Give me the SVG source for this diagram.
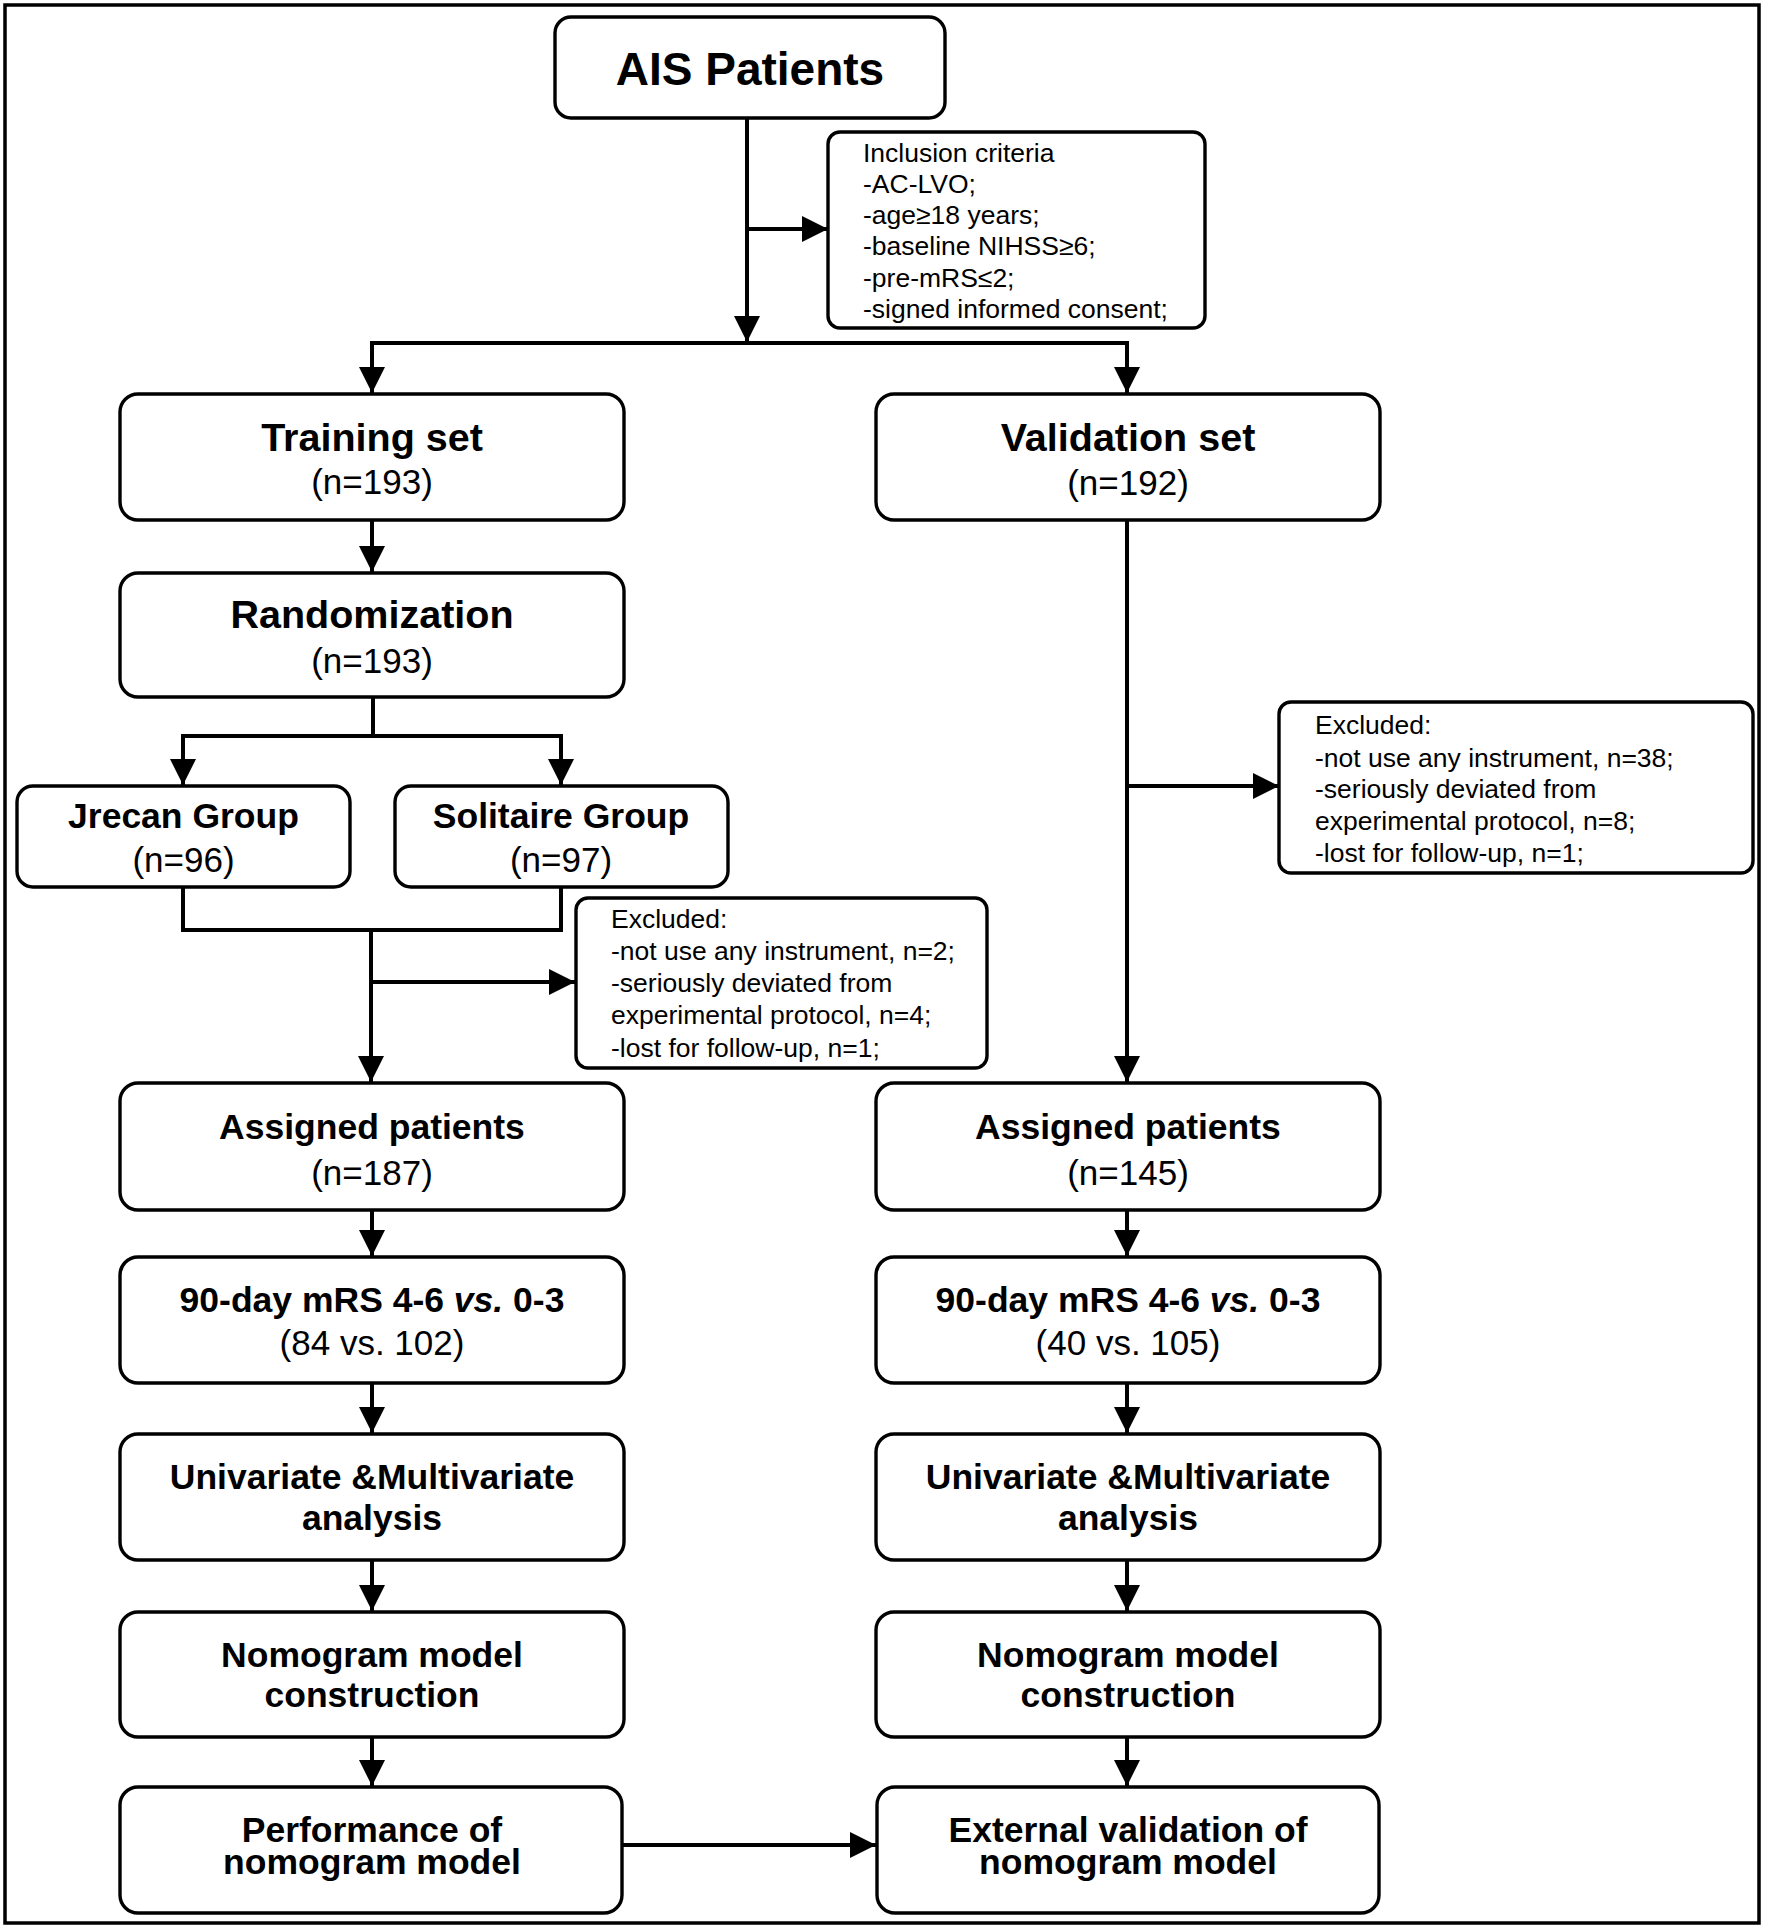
<svg xmlns="http://www.w3.org/2000/svg" width="1768" height="1931" viewBox="0 0 1768 1931">
<style>
.box{fill:#fff;stroke:#000;stroke-width:3.4}
.ln{fill:none;stroke:#000;stroke-width:4}
.t{font-family:"Liberation Sans",Arial,sans-serif;fill:#000}
.b{font-weight:bold;font-size:35.5px;text-anchor:middle}
.bt{font-weight:bold;font-size:39.5px;text-anchor:middle}
.r{font-size:35px;text-anchor:middle}
.s{font-size:26.5px}
</style>
<defs>
<marker id="ah" markerUnits="userSpaceOnUse" markerWidth="26" markerHeight="26" refX="26" refY="13" orient="auto">
<path d="M0,0 L26,13 L0,26 z" fill="#000"/>
</marker>
</defs>
<rect x="0" y="0" width="1768" height="1931" fill="#fff"/>
<rect x="5" y="5" width="1754" height="1918" fill="none" stroke="#000" stroke-width="3.5"/>

<g id="connectors">
<line class="ln" x1="747" y1="118" x2="747" y2="342" marker-end="url(#ah)"/>
<line class="ln" x1="747" y1="229" x2="828" y2="229" marker-end="url(#ah)"/>
<line class="ln" x1="370" y1="343" x2="1129" y2="343"/>
<line class="ln" x1="372" y1="343" x2="372" y2="393" marker-end="url(#ah)"/>
<line class="ln" x1="1127" y1="343" x2="1127" y2="393" marker-end="url(#ah)"/>
<line class="ln" x1="372" y1="520" x2="372" y2="572" marker-end="url(#ah)"/>
<line class="ln" x1="373" y1="697" x2="373" y2="736"/>
<line class="ln" x1="181" y1="736" x2="563" y2="736"/>
<line class="ln" x1="183" y1="736" x2="183" y2="785" marker-end="url(#ah)"/>
<line class="ln" x1="561" y1="736" x2="561" y2="785" marker-end="url(#ah)"/>
<polyline class="ln" points="183,887 183,930 561,930 561,887"/>
<line class="ln" x1="371" y1="930" x2="371" y2="1082" marker-end="url(#ah)"/>
<line class="ln" x1="371" y1="982" x2="575" y2="982" marker-end="url(#ah)"/>
<line class="ln" x1="1127" y1="520" x2="1127" y2="1082" marker-end="url(#ah)"/>
<line class="ln" x1="1127" y1="786" x2="1279" y2="786" marker-end="url(#ah)"/>
<line class="ln" x1="372" y1="1210" x2="372" y2="1256" marker-end="url(#ah)"/>
<line class="ln" x1="1127" y1="1210" x2="1127" y2="1256" marker-end="url(#ah)"/>
<line class="ln" x1="372" y1="1383" x2="372" y2="1433" marker-end="url(#ah)"/>
<line class="ln" x1="1127" y1="1383" x2="1127" y2="1433" marker-end="url(#ah)"/>
<line class="ln" x1="372" y1="1560" x2="372" y2="1611" marker-end="url(#ah)"/>
<line class="ln" x1="1127" y1="1560" x2="1127" y2="1611" marker-end="url(#ah)"/>
<line class="ln" x1="372" y1="1737" x2="372" y2="1786" marker-end="url(#ah)"/>
<line class="ln" x1="1127" y1="1737" x2="1127" y2="1786" marker-end="url(#ah)"/>
<line class="ln" x1="622" y1="1845" x2="876" y2="1845" marker-end="url(#ah)"/>
</g>

<g id="ais">
<rect class="box" x="555" y="17" width="390" height="101" rx="16"/>
<text class="t" x="750" y="85" font-weight="bold" font-size="46" text-anchor="middle">AIS Patients</text>
</g>

<g id="inclusion">
<rect class="box" x="828" y="132" width="377" height="196" rx="12"/>
<text class="t s" x="863" y="162">Inclusion criteria</text>
<text class="t s" x="863" y="193">-AC-LVO;</text>
<text class="t s" x="863" y="224">-age≥18 years;</text>
<text class="t s" x="863" y="255">-baseline NIHSS≥6;</text>
<text class="t s" x="863" y="287">-pre-mRS≤2;</text>
<text class="t s" x="863" y="318">-signed informed consent;</text>
</g>

<g id="training">
<rect class="box" x="120" y="394" width="504" height="126" rx="18"/>
<text class="t bt" x="372" y="451">Training set</text>
<text class="t r" x="372" y="494">(n=193)</text>
</g>

<g id="validation">
<rect class="box" x="876" y="394" width="504" height="126" rx="18"/>
<text class="t bt" x="1128" y="451">Validation set</text>
<text class="t r" x="1128" y="495">(n=192)</text>
</g>

<g id="randomization">
<rect class="box" x="120" y="573" width="504" height="124" rx="18"/>
<text class="t bt" x="372" y="628">Randomization</text>
<text class="t r" x="372" y="673">(n=193)</text>
</g>

<g id="jrecan">
<rect class="box" x="17" y="786" width="333" height="101" rx="16"/>
<text class="t b" x="183.5" y="828">Jrecan Group</text>
<text class="t r" x="183.5" y="872">(n=96)</text>
</g>

<g id="solitaire">
<rect class="box" x="395" y="786" width="333" height="101" rx="16"/>
<text class="t b" x="561" y="828">Solitaire Group</text>
<text class="t r" x="561" y="872">(n=97)</text>
</g>

<g id="excluded-left">
<rect class="box" x="576" y="898" width="411" height="170" rx="12"/>
<text class="t s" x="611" y="928">Excluded:</text>
<text class="t s" x="611" y="960">-not use any instrument, n=2;</text>
<text class="t s" x="611" y="992">-seriously deviated from</text>
<text class="t s" x="611" y="1024">experimental protocol, n=4;</text>
<text class="t s" x="611" y="1057">-lost for follow-up, n=1;</text>
</g>

<g id="excluded-right">
<rect class="box" x="1279" y="702" width="474" height="171" rx="12"/>
<text class="t s" x="1315" y="734">Excluded:</text>
<text class="t s" x="1315" y="767">-not use any instrument, n=38;</text>
<text class="t s" x="1315" y="798">-seriously deviated from</text>
<text class="t s" x="1315" y="830">experimental protocol, n=8;</text>
<text class="t s" x="1315" y="862">-lost for follow-up, n=1;</text>
</g>

<g id="assigned-left">
<rect class="box" x="120" y="1083" width="504" height="127" rx="18"/>
<text class="t b" x="372" y="1139">Assigned patients</text>
<text class="t r" x="372" y="1185">(n=187)</text>
</g>

<g id="assigned-right">
<rect class="box" x="876" y="1083" width="504" height="127" rx="18"/>
<text class="t b" x="1128" y="1139">Assigned patients</text>
<text class="t r" x="1128" y="1185">(n=145)</text>
</g>

<g id="mrs-left">
<rect class="box" x="120" y="1257" width="504" height="126" rx="18"/>
<text class="t b" x="372" y="1312">90-day mRS 4-6 <tspan font-style="italic">vs.</tspan> 0-3</text>
<text class="t r" x="372" y="1355">(84 vs. 102)</text>
</g>

<g id="mrs-right">
<rect class="box" x="876" y="1257" width="504" height="126" rx="18"/>
<text class="t b" x="1128" y="1312">90-day mRS 4-6 <tspan font-style="italic">vs.</tspan> 0-3</text>
<text class="t r" x="1128" y="1355">(40 vs. 105)</text>
</g>

<g id="uni-left">
<rect class="box" x="120" y="1434" width="504" height="126" rx="18"/>
<text class="t b" x="372" y="1489">Univariate &amp;Multivariate</text>
<text class="t b" x="372" y="1530">analysis</text>
</g>

<g id="uni-right">
<rect class="box" x="876" y="1434" width="504" height="126" rx="18"/>
<text class="t b" x="1128" y="1489">Univariate &amp;Multivariate</text>
<text class="t b" x="1128" y="1530">analysis</text>
</g>

<g id="nomo-left">
<rect class="box" x="120" y="1612" width="504" height="125" rx="18"/>
<text class="t b" x="372" y="1667">Nomogram model</text>
<text class="t b" x="372" y="1707">construction</text>
</g>

<g id="nomo-right">
<rect class="box" x="876" y="1612" width="504" height="125" rx="18"/>
<text class="t b" x="1128" y="1667">Nomogram model</text>
<text class="t b" x="1128" y="1707">construction</text>
</g>

<g id="performance">
<rect class="box" x="120" y="1787" width="502" height="126" rx="18"/>
<text class="t b" x="372" y="1842">Performance of</text>
<text class="t b" x="372" y="1874">nomogram model</text>
</g>

<g id="external">
<rect class="box" x="877" y="1787" width="502" height="126" rx="18"/>
<text class="t b" x="1128" y="1842">External validation of</text>
<text class="t b" x="1128" y="1874">nomogram model</text>
</g>
</svg>
